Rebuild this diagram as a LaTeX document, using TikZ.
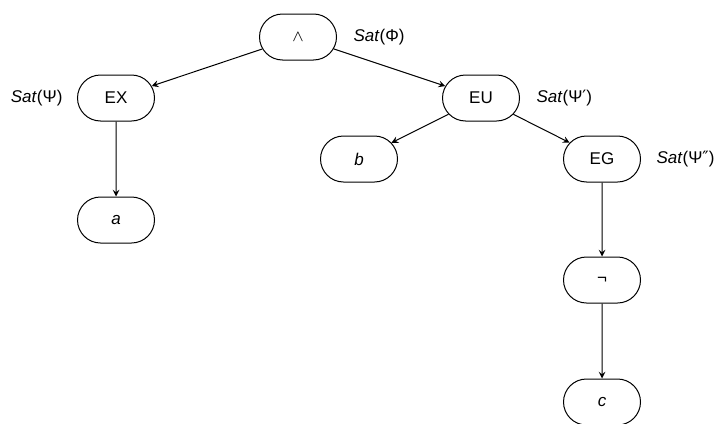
\documentclass[tikz,border=0pt]{standalone}
\usepackage{fontspec}
\setmainfont{Liberation Sans}
\newfontfamily\symfont{DejaVu Sans}
\usetikzlibrary{shapes.misc,positioning}
\tikzset{>=stealth}
\tikzset{op/.style={draw,rounded rectangle,minimum width=38.5pt,minimum height=23pt,inner sep=0pt,font=\fontsize{8.5}{10}\selectfont},
  sat/.style={inner sep=0pt,font=\fontsize{8.5}{10}\selectfont}}
\newcommand{\Sat}[1]{\textit{Sat}(#1)}

\begin{document}
\begin{tikzpicture}[x=0.5pt,y=-0.5pt,line width=0.5pt]
      \useasboundingbox (0,0) rectangle (716,423);
      \node[op] (and) at (298,37) {$\wedge$};
      \node[op] (ex) at (116,98) {EX};
      \node[op] (eu) at (481,98) {EU};
      \node[op] (a) at (116,220) {\textit{a}};
      \node[op] (b) at (359,159) {\textit{b}};
      \node[op] (eg) at (602,159) {EG};
      \node[op] (neg) at (602,280) {¬};
      \node[op] (c) at (602,402) {\textit{c}};
      \node[sat,right=8pt of and] {\Sat{Φ}};
      \node[sat,left=7pt of ex] {\Sat{Ψ}};
      \node[sat,right=8pt of eu] {\Sat{Ψ{\symfont ′}}};
      \node[sat,right=7.5pt of eg] {\Sat{Ψ{\symfont ″}}};
      \draw[->] (and) -- (ex);
      \draw[->] (and) -- (eu);
      \draw[->] (ex) -- (a);
      \draw[->] (eu) -- (b);
      \draw[->] (eu) -- (eg);
      \draw[->] (eg) -- (neg);
      \draw[->] (neg) -- (c);
    \end{tikzpicture}
\end{document}
